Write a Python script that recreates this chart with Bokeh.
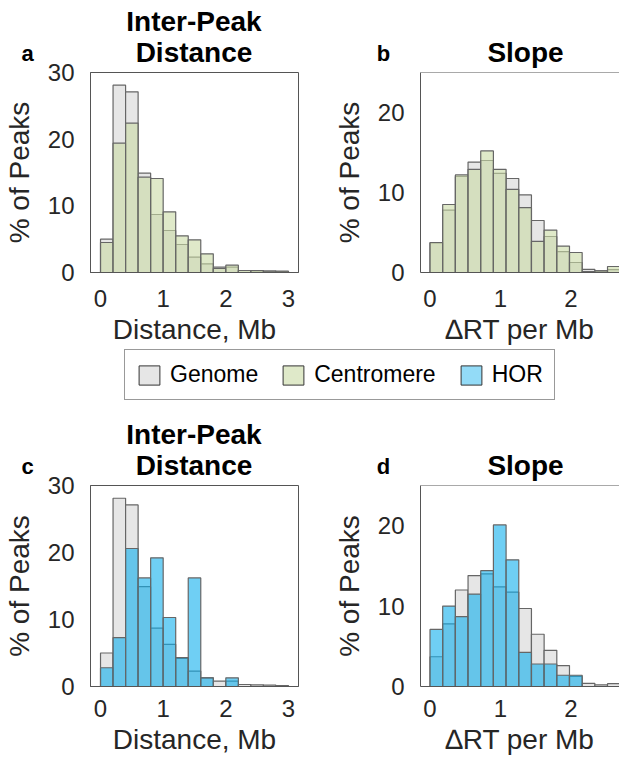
from bokeh.plotting import figure
from bokeh.layouts import column, row
from bokeh.models import Span, Legend, LegendItem, FixedTicker, Range1d
from bokeh.core.properties import value
from bokeh.embed import file_html
from bokeh.resources import INLINE

# ---------------- data (percent of peaks per bin) ----------------
dist_edges = [0.0, 0.2, 0.4, 0.6, 0.8, 1.0, 1.2, 1.4, 1.6, 1.8, 2.0, 2.2, 2.4, 2.6, 2.8, 3.0]
dist_genome = [5.0, 28.1, 27.1, 14.9, 8.7, 6.3, 4.2, 2.3, 1.3, 0.8, 0.8, 0.3, 0.25, 0.2, 0.15]
dist_centromere = [4.5, 19.4, 22.4, 14.3, 14.1, 9.1, 5.5, 4.9, 2.8, 0.6, 1.1, 0.3, 0.3, 0.2, 0.2]
dist_hor = [2.8, 7.3, 20.6, 16.2, 19.2, 10.3, 4.3, 16.2, 1.3, 0.0, 1.3, 0.0, 0.0, 0.0, 0.0]

slope_edges = [0.0, 0.18, 0.36, 0.54, 0.72, 0.90, 1.08, 1.26, 1.44, 1.62, 1.80, 1.98, 2.16, 2.34, 2.52, 2.70]
slope_genome = [3.7, 7.8, 12.0, 13.8, 14.0, 12.4, 11.75, 9.7, 6.5, 4.5, 2.6, 1.25, 0.4, 0.2, 0.35]
slope_centromere = [3.75, 8.5, 12.2, 12.9, 15.2, 12.9, 10.4, 8.1, 3.9, 5.3, 3.3, 2.5, 0.1, 0.2, 0.75]
slope_hor = [7.1, 10.0, 8.7, 11.5, 14.4, 20.1, 15.75, 4.25, 2.8, 2.8, 1.4, 1.4, 0.0, 0.0, 0.0]

dist_xticks = [0, 1, 2, 3]
slope_xticks = [0, 1, 2]
dist_yticks = [0, 10, 20, 30]
slope_yticks = [0, 10, 20]

series_names = ["Genome", "Centromere", "HOR"]
panel_titles = [["Inter-Peak", "Distance"], ["Slope"]]
panel_letters = [["a", "b"], ["c", "d"]]

# ---------------- style ----------------
FONT = "Liberation Sans"
GENOME_FILL = "#e6e6e6"
CENT_FILL = "#cadaa5"
HOR_FILL = "#0fafed"
EDGE = "#666666"
AX = "#262626"
FRAME = "#555555"
OVERLAP = 16  # panels reach up under the header strip so the top tick label has room


def panel(edges, genome, other, other_fill, xr, ymax, xticks, yticks, xlabel,
          width, height, bl, br, bt, bb, right_box, tick_standoff):
    p = figure(width=width, height=height, output_backend="svg", toolbar_location=None,
               title_location=None,
               x_range=Range1d(*xr), y_range=Range1d(0, ymax),
               min_border_left=bl, min_border_right=br, min_border_top=bt, min_border_bottom=bb)
    p.xgrid.visible = False
    p.ygrid.visible = False
    p.background_fill_color = "white"
    p.border_fill_color = None
    p.outline_line_color = FRAME if right_box else None
    p.outline_line_width = 1

    p.quad(left=edges[:-1], right=edges[1:], bottom=0, top=genome,
           fill_color=GENOME_FILL, line_color=EDGE, line_width=1.2)
    p.quad(left=edges[:-1], right=edges[1:], bottom=0, top=other,
           fill_color=other_fill, fill_alpha=0.6, line_color=EDGE, line_width=1.2)

    if not right_box:
        p.add_layout(Span(location=ymax, dimension="width", line_color=FRAME, line_width=1))

    for ax in (p.xaxis[0], p.yaxis[0]):
        ax.axis_line_color = FRAME
        ax.axis_line_width = 1
        ax.major_tick_line_color = None
        ax.minor_tick_line_color = None
        ax.major_label_text_font = FONT
        ax.major_label_text_font_size = "24px"
        ax.major_label_text_color = AX
        ax.axis_label_text_font = FONT
        ax.axis_label_text_font_size = "28px"
        ax.axis_label_text_font_style = "normal"
        ax.axis_label_text_color = AX
    p.xaxis.ticker = FixedTicker(ticks=xticks)
    p.yaxis.ticker = FixedTicker(ticks=yticks)
    p.xaxis.axis_label = xlabel
    p.yaxis.axis_label = "% of Peaks"
    p.xaxis.major_label_standoff = tick_standoff
    p.xaxis.axis_label_standoff = 4
    p.yaxis.major_label_standoff = 10
    p.yaxis.axis_label_standoff = 10
    return p


def header(height, titles, letters, frame_top):
    """Strip above a row of panels holding the bold panel titles and panel letters.
    Pixel-like coordinates, y measured downward from the strip top; frame_top is
    where the panels' frames begin, measured from the same origin."""
    h = figure(width=619, height=height, output_backend="svg", toolbar_location=None,
               title_location=None, x_axis_location=None, y_axis_location=None, min_border=0,
               x_range=Range1d(0, 619), y_range=Range1d(height, 0))
    h.xgrid.visible = False
    h.ygrid.visible = False
    h.outline_line_color = None
    h.background_fill_color = None
    h.border_fill_color = None
    centers = [193.5, 525]
    letter_x = [27, 383]
    for cx, lines in zip(centers, titles):
        n = len(lines)
        ys = [frame_top - 20 - 31 * (n - 1 - i) for i in range(n)]
        h.text(x=[cx] * n, y=ys, text=lines, text_font=value(FONT), text_font_size="28px",
               text_font_style="bold", text_color="black", text_align="center",
               text_baseline="middle")
    h.text(x=letter_x, y=[frame_top - 19] * 2, text=letters, text_font=value(FONT),
           text_font_size="22px", text_font_style="bold", text_color="black",
           text_align="center", text_baseline="middle")
    return h


DIST_XR = (-0.16, 3.16)
SLOPE_XR = (-0.135, 2.69)

# page: header1 0-70 | row1 54-348 (frame 72-272) | legend 348-410 | header2 410-483 | row2 467-761 (frame 485-686)
h1 = header(70, panel_titles, panel_letters[0], 72)
pa = panel(dist_edges, dist_genome, dist_centromere, CENT_FILL, DIST_XR, 30, dist_xticks, dist_yticks,
           "Distance, Mb", 330, 294, 89, 32, 18, 76, True, 11)
pb = panel(slope_edges, slope_genome, slope_centromere, CENT_FILL, SLOPE_XR, 25, slope_xticks, slope_yticks,
           "\u2206RT per Mb", 289, 294, 90, 0, 18, 76, False, 11)
h2 = header(73, panel_titles, panel_letters[1], 75)
pc = panel(dist_edges, dist_genome, dist_hor, HOR_FILL, DIST_XR, 30, dist_xticks, dist_yticks,
           "Distance, Mb", 330, 294, 89, 32, 18, 75, True, 7)
pd = panel(slope_edges, slope_genome, slope_hor, HOR_FILL, SLOPE_XR, 25, slope_xticks, slope_yticks,
           "\u2206RT per Mb", 289, 294, 90, 0, 18, 75, False, 7)

# ---------------- legend strip ----------------
lg = figure(width=619, height=62, output_backend="svg", toolbar_location=None,
            title_location=None, x_axis_location=None, y_axis_location=None, min_border=0,
            x_range=Range1d(0, 1), y_range=Range1d(0, 1))
lg.xgrid.visible = False
lg.ygrid.visible = False
lg.outline_line_color = None
fills = [(GENOME_FILL, 1.0), (CENT_FILL, 0.6), (HOR_FILL, 0.45)]
items = []
for name, (fc, fa) in zip(series_names, fills):
    # proxy glyph kept outside the visible range; only its legend swatch is seen
    r = lg.quad(left=[2], right=[3], top=[3], bottom=[2], fill_color=fc, fill_alpha=fa,
                line_color="#333333", line_width=1)
    items.append(LegendItem(label=name, renderers=[r]))
leg = Legend(items=items, orientation="horizontal", location=(124, 10),
             label_text_font=FONT, label_text_font_size="23px", label_text_color="black",
             glyph_width=26, glyph_height=24, label_standoff=8, spacing=22, padding=11, margin=0,
             border_line_color="#333333", border_line_width=1, background_fill_alpha=1.0)
lg.add_layout(leg)

row1 = row(pa, pb, margin=(-OVERLAP, 0, 0, 0))
row2 = row(pc, pd, margin=(-OVERLAP, 0, 0, 0))
layout = column(h1, row1, lg, h2, row2)
open("out.html", "w").write(file_html(layout, INLINE))
